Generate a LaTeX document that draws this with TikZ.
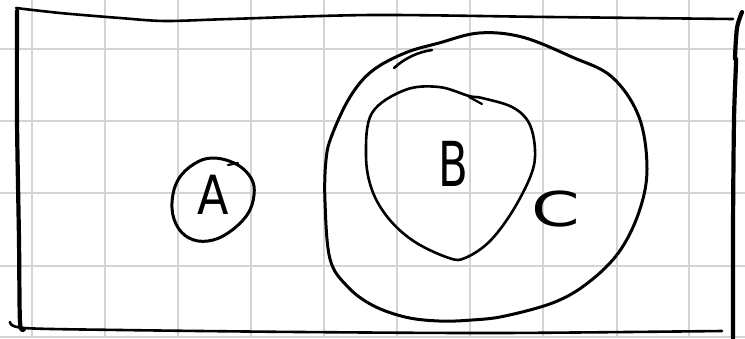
\documentclass[tikz,border=0pt]{standalone}
\usepackage{fontspec}
\setmainfont{DejaVu Sans}
\begin{document}
\begin{tikzpicture}[x=1pt,y=-1pt,
  gridline/.style={draw=black!17,line width=1.4pt},
  ink/.style={draw=black,line width=3pt,line cap=round,line join=round},
  heavy/.style={draw=black,line width=4.2pt,line cap=round,line join=round},
  letter/.style={inner sep=0pt,font=\fontsize{#1}{#1}\selectfont}]
\useasboundingbox (0,0) rectangle (745,338);
\fill[white] (0,0) rectangle (745,338);
% grid
\foreach \gx in {32,105,178,251,324,397,470,543,617,689}
  \draw[gridline] (\gx,0) -- (\gx,338);
\foreach \gy in {49,121,193,266,337}
  \draw[gridline] (0,\gy) -- (745,\gy);
% frame
\draw[heavy] plot[smooth] coordinates {(17,11) (17,120) (19,240) (20,322) (24,329)};
\draw[ink,line width=2.6pt] plot[smooth] coordinates {(16,8) (60,13) (120,18) (165,21) (230,19) (372,15) (550,17) (733,19)};
\draw[ink,line width=2.6pt] plot[smooth] coordinates {(10,322) (24,328) (120,330) (300,332) (500,333) (722,331)};
\draw[heavy] plot[smooth] coordinates {(742,12) (737,28) (735,58) (736,62) (734,120) (733,230) (733,338)};
% circle C
\draw[ink] plot[smooth cycle,tension=0.6] coordinates {
  (479,33) (522,37) (572,57) (612,77) (639,117) (647,169) (639,212) (619,252)
  (589,282) (555,302) (505,316) (472,320) (439,321) (405,317) (372,305) (347,286)
  (330,259) (325,202) (326,160) (332,135) (350,97) (372,71) (405,53) (439,43)};
\draw[ink,line width=2.6pt] (394,68) .. controls (405,58) and (418,52) .. (432,50);
% circle B
\draw[ink,line width=2.6pt] plot[smooth cycle,tension=0.6] coordinates {
  (372,113) (405,90) (439,87) (469,96) (482,98) (512,107) (529,123) (535,150)
  (531,175) (512,212) (489,242) (465,258) (449,258) (415,242) (389,219) (372,190) (366,155)};
\draw[ink,line width=2.2pt] (469,97) -- (482,104);
% circle A
\draw[ink] plot[smooth cycle,tension=0.65] coordinates {
  (213,158) (236,164) (251,178) (254,195) (247,215) (228,233) (208,241) (189,238)
  (176,224) (172,203) (178,180) (194,164)};
\draw[ink,line width=2.2pt] (228,165) -- (238,163);
% labels
\node[letter=54,xscale=0.85] (la) at (213,195) {A};
\node[letter=62,xscale=0.7] (lb) at (453,164) {B};
\node[letter=48,xscale=1.45] (lc) at (556,209) {C};
\end{tikzpicture}
\end{document}
